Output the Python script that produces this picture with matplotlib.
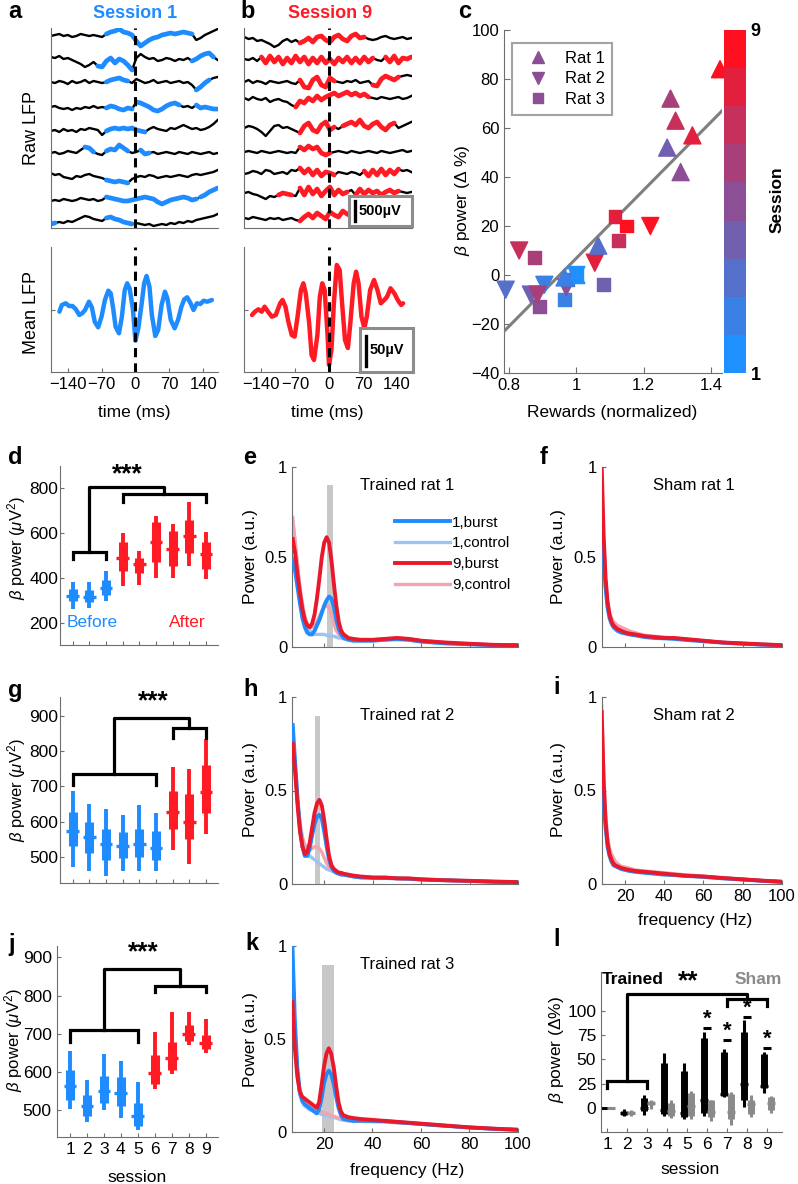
import numpy as np
import matplotlib
matplotlib.use('Agg')
import matplotlib.pyplot as plt
from matplotlib.colors import LinearSegmentedColormap, Normalize
from matplotlib.cm import ScalarMappable
from matplotlib.patches import Rectangle
from matplotlib.lines import Line2D

plt.rcParams['font.family'] = ['Liberation Sans', 'DejaVu Sans']
plt.rcParams['mathtext.fontset'] = 'custom'
plt.rcParams['mathtext.rm'] = 'Liberation Sans'
plt.rcParams['mathtext.it'] = 'Liberation Sans:italic'
plt.rcParams['xtick.direction'] = 'in'
plt.rcParams['ytick.direction'] = 'in'
plt.rcParams['axes.edgecolor'] = '#6e6e6e'
plt.rcParams['xtick.color'] = '#6e6e6e'
plt.rcParams['ytick.color'] = '#6e6e6e'
plt.rcParams['xtick.labelcolor'] = 'black'
plt.rcParams['ytick.labelcolor'] = 'black'
plt.rcParams['font.size'] = 12

BLUE = '#1E8CFF'
RED = '#FF1A24'
LBLUE = '#9CC4F2'
LRED = '#F5A3AC'
BAND = '#c8c8c8'
TICK_FS = 11.5
LAB_FS = 12.5

# ---------------- data: a/b raw LFP (px offsets, up positive) ----------------
raw_a = [
    [-1,0,1,-1,0,-2,-1,1,0,-1,0,-1,-2,1,3,4,6,3,2,0,-6,-11,-8,-5,-3,-2,0,1,2,1,2,3,2,1,-5,-3,0,2,4,6],
    [3,2,4,1,2,0,-2,-4,-7,-5,-2,-6,-7,-1,2,-3,1,-1,-5,-10,2,6,3,1,2,-1,0,2,1,-1,1,0,2,-1,1,4,6,7,3,0],
    [0,-1,1,0,-2,1,-1,0,2,-1,1,0,-1,0,2,3,4,2,1,-1,3,1,-1,0,2,-1,0,1,-1,0,1,-1,0,-3,-8,-5,-1,2,4,5],
    [0,1,-1,-2,-1,-3,-1,-2,0,-1,1,-1,0,-1,1,0,-2,-3,-1,-2,5,4,2,0,-3,-4,-2,1,3,4,2,0,1,-1,2,-1,0,-1,-2,-2],
    [-1,0,-2,1,-1,0,-2,1,0,2,1,0,-5,-1,1,2,1,2,1,2,0,-1,-2,1,3,1,0,-1,2,1,3,5,3,1,2,0,1,3,6,10],
    [0,1,-1,0,2,1,0,3,6,5,1,-1,-2,2,4,3,8,5,2,0,1,3,-1,0,1,-1,0,1,0,-1,1,0,-1,1,0,-1,0,1,-1,0],
    [4,2,3,0,-1,-2,1,0,2,3,1,0,-1,-3,-4,-5,-4,-5,-6,-2,0,1,0,2,1,-1,0,1,0,1,2,1,0,2,3,2,3,4,5,7],
    [-1,0,-1,1,0,-1,0,2,1,0,1,-1,0,3,2,1,0,-1,-1,0,1,2,3,2,1,-2,-4,-2,0,1,2,3,2,0,1,3,5,8,10,12],
    [-2,-1,0,-1,1,0,2,4,6,5,3,2,1,4,5,3,2,0,-1,-2,-1,-2,-3,-2,-4,-3,-2,-3,-1,-2,0,-1,1,0,2,3,4,5,6,8],
]
rows_a = [35, 60, 82, 107, 130, 153, 177, 200, 222]
segs_a = [[(13, 33)], [(11, 19), (33, 38)], [(13, 18), (34, 37)], [(13, 19), (20, 30), (34, 39)],
          [(13, 22)], [(8, 10), (13, 18), (21, 23)], [(13, 18)], [(13, 34), (35, 39)], [(0, 1), (13, 19)]]

raw_b = [
    [3,1,2,-1,0,-2,-4,-7,-5,-1,1,-2,0,-3,-1,2,-2,3,4,0,-2,3,5,1,-1,4,6,2,3,1,0,1,3,4,2,1,2,3,1,2],
    [1,0,2,-1,3,-3,4,-2,3,-4,2,-3,4,-2,3,-4,2,-3,3,-3,1,-4,2,-2,3,-3,2,-3,3,-2,2,0,-1,3,-2,4,-3,2,1,3],
    [0,2,-1,1,0,-2,1,0,-1,0,1,-1,-2,2,-5,-6,2,5,-3,-5,4,1,0,-1,1,0,2,-1,0,1,-3,-4,3,6,4,2,5,6,7,6],
    [1,-1,2,0,-1,1,-3,-1,0,-2,-3,-6,-8,-2,-4,1,-2,3,-1,2,4,6,3,5,7,4,6,3,5,2,1,0,2,1,0,1,2,0,1,3],
    [0,2,1,-1,-4,-8,-3,2,3,0,1,-1,-3,-5,2,5,-2,-4,3,6,-2,1,-1,2,4,6,3,8,2,0,4,6,1,-2,3,5,0,2,4,6],
    [0,1,0,-1,1,0,-1,0,1,0,-1,0,-1,5,2,6,3,5,-1,-3,-1,0,1,0,-1,1,0,-1,0,1,0,-1,1,0,-1,0,1,2,0,1],
    [-1,0,2,1,-1,3,2,-1,0,1,-1,3,2,5,0,4,-2,3,-3,1,0,-2,1,0,-1,1,0,-2,2,-3,3,-2,4,-2,3,-1,4,2,3,1],
    [0,1,-1,-2,-4,-6,-3,-4,-2,0,-1,-2,-3,5,-2,6,-1,4,-3,2,6,-2,3,-1,1,3,-2,4,-1,3,0,2,-2,1,3,0,2,1,0,1],
    [0,-1,1,0,-1,-2,0,-1,0,-2,-1,0,-2,-3,1,4,0,5,2,-1,6,3,1,7,4,2,8,5,3,9,6,8,4,3,1,2,0,1,-1,0],
]
rows_b = [40, 60, 82, 99, 128, 152, 173, 193, 218]
segs_b = [[(13, 28)], [(4, 30), (33, 39)], [(13, 21), (30, 36)], [(12, 29)], [(13, 21), (23, 35)],
          [(13, 20)], [(13, 21), (28, 36)], [(8, 11), (13, 24), (26, 36)], [(13, 32)]]

# mean LFP (ms, arbitrary units)
mean_a_t = [-157,-152,-144,-137,-130,-123,-116,-110,-104,-96,-90,-84,-77,-70,-63,-56,-51,-46,-41,-34,
            -28,-22,-17,-12,-5,0,6,13,18,23,29,34,41,47,54,61,66,73,81,88,95,101,107,114,120,127,134,141,148,158]
mean_a_v = [-1.7,5,6.7,4,4,0.7,-5,-3.3,0,8.3,2.7,-11.7,-17.3,-6.7,10,19.3,16.7,1.7,-16.7,-23.3,
            -6.7,20,26.7,21.7,0,-30.7,-18.3,6.7,26.7,34,23.3,-5,-26,-20,5,18.3,11.7,-10,-18.3,-10,
            3.3,10.7,12.7,6.7,0,6.7,6,9.3,8.3,10]
mean_b_t = [-159,-153,-146,-139,-133,-126,-118,-110,-101,-96,-90,-84,-77,-71,-65,-58,-53,-48,-41,-36,
            -31,-24,-19,-14,-9,-3,0,5,10,16,22,27,33,39,44,51,56,61,67,73,78,85,93,100,107,114,120,127,135,142,149,153]
mean_b_v = [-5,-1.7,0.7,-1.7,3.3,-1.7,-6.7,-5,6.7,10,3.3,-11.7,-25,-26.7,-6.7,20,26.7,16.7,-13.3,-45,
            -50,-25,13.3,26.7,20,-25,-55,-40,6.7,45,40,6.7,-30,-38,-13.3,26.7,38.3,26.7,-6.7,-18,
            -6.7,20,30,20,6.7,10,13.3,21.7,16.7,10,5,6.7]

# ---------------- c scatter ----------------
rat1_x = [1.0, 0.965, 1.065, 1.27, 1.31, 1.28, 1.295, 1.345, 1.427]
rat1_y = [0, -1, 12, 52, 42, 72, 63, 57, 84]
rat2_x = [1.0, 0.905, 0.79, 0.865, 0.97, 0.885, 0.83, 1.055, 1.22]
rat2_y = [0, -4, -6, -8, -5, -8, 10, 5, 20]
rat3_x = [1.0, 0.965, 0.975, 1.08, 0.89, 0.875, 1.125, 1.115, 1.15]
rat3_y = [0, -10, -2, -4, -13, 7, 14, 24, 20]
sessions = [1, 2, 3, 4, 5, 6, 7, 8, 9]
fit_x = [0.785, 1.433]
fit_y = [-23, 67]

# ---------------- d/g/j box stats: low, q1, med, q3, high ----------------
d_stats = [[262,295,318,350,383],[265,293,315,345,383],[295,325,355,390,430],
           [365,430,490,560,600],[370,420,460,490,520],[400,470,560,650,675],
           [400,455,530,610,640],[455,510,585,660,740],[395,440,505,560,605]]
g_stats = [[470,530,572,628,688],[460,510,557,600,650],[446,490,535,580,635],
           [460,495,530,570,620],[460,500,535,580,648],[460,490,525,572,625],
           [520,580,628,688,755],[480,550,598,678,750],[565,625,685,762,835]]
j_stats = [[503,527,563,605,655],[470,485,510,540,580],[500,520,550,590,648],
           [480,510,545,588,630],[448,460,485,518,575],[556,568,598,645,705],
           [595,605,636,678,757],[672,682,700,722,758],[650,660,675,697,740]]
d_before = 3
g_before = 6
j_before = 5

# ---------------- spectra ----------------
fq = [7,8,9,10,11,12,13,14,15,16,17,18,19,20,21,22,23,24,25,26,27,28,30,32,35,40,45,50,55,60,70,80,90,100]
e_b9 = [0.60,0.52,0.40,0.30,0.21,0.15,0.12,0.11,0.13,0.18,0.27,0.38,0.50,0.58,0.61,0.58,0.48,0.35,0.23,0.14,0.09,0.07,0.05,0.045,0.04,0.04,0.045,0.05,0.045,0.035,0.025,0.018,0.012,0.01]
e_b1 = [0.48,0.42,0.33,0.24,0.16,0.11,0.08,0.07,0.07,0.09,0.12,0.15,0.19,0.23,0.26,0.28,0.27,0.22,0.15,0.10,0.07,0.05,0.04,0.035,0.035,0.035,0.04,0.045,0.04,0.03,0.02,0.015,0.01,0.008]
e_c1 = [0.70,0.58,0.45,0.32,0.22,0.15,0.11,0.09,0.08,0.07,0.07,0.07,0.07,0.07,0.065,0.065,0.06,0.06,0.055,0.05,0.05,0.045,0.04,0.035,0.035,0.035,0.04,0.04,0.04,0.03,0.02,0.015,0.01,0.008]
e_c9 = [0.72,0.58,0.45,0.33,0.24,0.17,0.13,0.11,0.11,0.12,0.14,0.17,0.20,0.22,0.23,0.22,0.18,0.13,0.09,0.07,0.06,0.05,0.045,0.04,0.04,0.04,0.045,0.05,0.045,0.035,0.025,0.018,0.012,0.01]
h_b9 = [0.75,0.6,0.42,0.28,0.2,0.16,0.17,0.22,0.3,0.38,0.43,0.45,0.42,0.34,0.24,0.15,0.1,0.08,0.07,0.06,0.06,0.055,0.05,0.045,0.04,0.035,0.035,0.03,0.03,0.025,0.02,0.017,0.013,0.01]
h_b1 = [0.85,0.65,0.45,0.3,0.2,0.15,0.15,0.19,0.26,0.32,0.36,0.37,0.35,0.28,0.2,0.13,0.09,0.07,0.06,0.055,0.05,0.05,0.045,0.04,0.035,0.033,0.032,0.03,0.028,0.024,0.02,0.016,0.012,0.01]
h_c1 = [0.8,0.62,0.45,0.32,0.24,0.2,0.17,0.15,0.14,0.13,0.12,0.11,0.1,0.09,0.08,0.075,0.07,0.065,0.06,0.055,0.05,0.05,0.045,0.04,0.035,0.033,0.032,0.03,0.028,0.024,0.02,0.016,0.012,0.01]
h_c9 = [0.78,0.6,0.44,0.32,0.25,0.21,0.19,0.18,0.19,0.2,0.2,0.19,0.17,0.14,0.11,0.09,0.08,0.07,0.065,0.06,0.055,0.05,0.045,0.04,0.035,0.033,0.032,0.03,0.028,0.024,0.02,0.016,0.012,0.01]
k_b9 = [0.7,0.45,0.3,0.22,0.19,0.18,0.17,0.16,0.15,0.14,0.13,0.16,0.25,0.35,0.42,0.45,0.42,0.35,0.25,0.16,0.11,0.09,0.08,0.075,0.07,0.065,0.06,0.055,0.05,0.045,0.035,0.025,0.018,0.012]
k_b1 = [1.0,0.6,0.35,0.22,0.17,0.15,0.14,0.13,0.12,0.11,0.1,0.12,0.18,0.26,0.31,0.33,0.31,0.26,0.19,0.13,0.09,0.07,0.065,0.06,0.06,0.06,0.058,0.053,0.048,0.043,0.033,0.024,0.017,0.012]
k_c1 = [0.85,0.55,0.32,0.2,0.16,0.14,0.13,0.12,0.115,0.11,0.105,0.1,0.095,0.09,0.09,0.085,0.08,0.08,0.075,0.07,0.065,0.065,0.06,0.06,0.058,0.056,0.055,0.05,0.047,0.042,0.033,0.024,0.017,0.012]
k_c9 = [0.8,0.5,0.33,0.22,0.18,0.16,0.15,0.14,0.13,0.12,0.11,0.11,0.11,0.105,0.1,0.095,0.09,0.085,0.08,0.075,0.07,0.065,0.06,0.06,0.058,0.056,0.055,0.05,0.047,0.042,0.033,0.024,0.017,0.012]

fq_s = [8,9,10,11,12,13,14,15,16,18,20,22,25,30,35,40,45,50,60,70,80,90,100]
f_b9 = [1.0,0.62,0.38,0.25,0.18,0.14,0.12,0.11,0.10,0.09,0.08,0.075,0.07,0.06,0.055,0.05,0.05,0.045,0.035,0.025,0.02,0.015,0.01]
f_b1 = [0.65,0.5,0.33,0.22,0.16,0.13,0.11,0.1,0.09,0.08,0.075,0.07,0.065,0.055,0.05,0.048,0.045,0.04,0.032,0.024,0.018,0.013,0.01]
f_c1 = [0.62,0.48,0.32,0.22,0.17,0.14,0.12,0.11,0.1,0.09,0.085,0.08,0.07,0.06,0.055,0.05,0.048,0.042,0.034,0.025,0.018,0.013,0.01]
f_c9 = [0.85,0.58,0.36,0.25,0.19,0.16,0.14,0.13,0.12,0.11,0.1,0.09,0.08,0.065,0.06,0.055,0.05,0.045,0.035,0.026,0.02,0.014,0.01]
i_b9 = [0.92,0.55,0.33,0.22,0.16,0.13,0.11,0.1,0.095,0.085,0.08,0.075,0.07,0.065,0.06,0.055,0.05,0.045,0.04,0.032,0.025,0.018,0.012]
i_b1 = [0.6,0.45,0.3,0.2,0.15,0.12,0.1,0.095,0.09,0.08,0.075,0.07,0.065,0.06,0.055,0.05,0.048,0.044,0.038,0.03,0.024,0.017,0.012]
i_c1 = [0.7,0.5,0.33,0.22,0.16,0.13,0.11,0.1,0.095,0.085,0.08,0.075,0.068,0.062,0.057,0.052,0.05,0.045,0.04,0.031,0.024,0.017,0.012]
i_c9 = [0.95,0.6,0.38,0.25,0.19,0.16,0.14,0.12,0.11,0.095,0.09,0.085,0.075,0.07,0.065,0.06,0.055,0.05,0.042,0.033,0.025,0.018,0.012]
band_e = (21.2, 23.8)
band_h = (16.3, 18.3)
band_k = (19.3, 24.2)

# ---------------- l: trained / sham (low, q1, med, q3, high) ----------------
l_trained = [[0,0,0,0,0],[-9,-7,-5,-3,-1],[-7,-3,0,10,13],[-9,-6,-2,46,56],[-12,-10,-5,38,46],
             [-8,-5,8,72,78],[11,12,14,58,61],[1,8,24,78,91],[15,20,22,55,58]]
l_sham = [[0,0,0,0,0],[-8,-6,-5,-3,-2],[-1,3,5,7,8],[-11,-8,-3,5,8],[-12,-8,2,15,17],
          [-14,-10,-4,8,8],[-18,-12,-4,14,16],[-10,-6,4,8,13],[-5,-2,5,11,12]]
l_sig_sessions = [6, 7, 8, 9]
l_sig_level = [82, 70, 94, 62]

W, H = 798, 1184
fig = plt.figure(figsize=(W / 100, H / 100), dpi=100)


def px_axes(l, t, r, b):
    ax = fig.add_axes([l / W, 1 - b / H, (r - l) / W, (b - t) / H])
    ax.spines['top'].set_visible(False)
    ax.spines['right'].set_visible(False)
    return ax


def ftext(x, y, s, **kw):
    kw.setdefault('ha', 'center')
    kw.setdefault('va', 'center')
    return fig.text(x / W, 1 - y / H, s, **kw)


def fbox(l, t, r, b, label, bar_top, bar_bot):
    fig.add_artist(Rectangle((l / W, 1 - b / H), (r - l) / W, (b - t) / H, transform=fig.transFigure,
                             facecolor='white', edgecolor='#8c8c8c', linewidth=2.2, zorder=5))
    fig.add_artist(Line2D([(l + 6) / W] * 2, [1 - bar_top / H, 1 - bar_bot / H], transform=fig.transFigure,
                          color='black', linewidth=2.4, zorder=6))
    ftext(l + 10, (t + b) / 2, label, ha='left', fontsize=10.5, fontweight='bold', zorder=6)


# ---------------- panels a, b ----------------
t_raw = np.linspace(-175, 170, 40)
for left, raws, rows, segs, col in [(50.7, raw_a, rows_a, segs_a, BLUE), (244.3, raw_b, rows_b, segs_b, RED)]:
    ax = px_axes(left, 28, left + 167.5, 228)
    for tr, row, sg in zip(raws, rows, segs):
        y = row - np.array(tr, dtype=float)
        ax.plot(t_raw, y, color='black', lw=1.7)
        for i0, i1 in sg:
            ax.plot(t_raw[i0:i1 + 1], y[i0:i1 + 1], color=col, lw=3.4, solid_capstyle='round')
    ax.axvline(0, color='black', lw=2.2, ls=(0, (3, 2)))
    ax.set_xlim(-175, 171)
    ax.set_ylim(228, 28)
    ax.set_xticks([])
    ax.set_yticks([])

for left, mt, mv, col in [(50.7, mean_a_t, mean_a_v, BLUE), (244.3, mean_b_t, mean_b_v, RED)]:
    ax = px_axes(left, 247, left + 167.5, 372)
    ax.plot(mt, mv, color=col, lw=3.2, solid_joinstyle='round', solid_capstyle='round')
    ax.axvline(0, color='black', lw=2.2, ls=(0, (3, 2)))
    ax.set_xlim(-175, 171)
    ax.set_ylim(-62, 63)
    ax.set_xticks([-140, -70, 0, 70, 140])
    ax.set_yticks([0])
    ax.set_yticklabels([])
    ax.tick_params(labelsize=TICK_FS + 0.5, length=3)

fbox(349, 196, 412, 226, '500µV', 201, 221)
fbox(360, 328, 413, 372, '50µV', 336, 366)

ftext(8, 12, 'a', ha='left', fontsize=17, fontweight='bold')
ftext(240, 12, 'b', ha='left', fontsize=17, fontweight='bold')
ftext(135, 13, 'Session 1', color=BLUE, fontsize=13, fontweight='bold')
ftext(330, 13, 'Session 9', color=RED, fontsize=13, fontweight='bold')
ftext(32, 128, 'Raw LFP', rotation=90, fontsize=13)
ftext(32, 312, 'Mean LFP', rotation=90, fontsize=13)
ftext(134, 412, 'time (ms)', fontsize=LAB_FS)
ftext(327, 412, 'time (ms)', fontsize=LAB_FS)

# ---------------- panel c ----------------
cmap9 = LinearSegmentedColormap.from_list('sess', ['#1E90FF', '#8C4F96', '#FF1020']).resampled(9)
norm = Normalize(1, 9)
ax = px_axes(504, 30, 722, 373)
ax.plot(fit_x, fit_y, color='#7f7f7f', lw=2.2, zorder=3)
ax.scatter(rat3_x, rat3_y, c=sessions, cmap=cmap9, norm=norm, marker='s', s=85, zorder=4, clip_on=False)
ax.scatter(rat2_x, rat2_y, c=sessions, cmap=cmap9, norm=norm, marker='v', s=150, zorder=4, clip_on=False)
ax.scatter(rat1_x, rat1_y, c=sessions, cmap=cmap9, norm=norm, marker='^', s=150, zorder=4, clip_on=False)
ax.set_xlim(0.785, 1.433)
ax.set_ylim(-40, 100)
ax.set_xticks([0.8, 1.0, 1.2, 1.4])
ax.set_xticklabels(['0.8', '1', '1.2', '1.4'])
ax.set_yticks([-40, -20, 0, 20, 40, 60, 80, 100])
ax.tick_params(labelsize=TICK_FS + 0.5, length=4)
mid = cmap9(norm(5))
hs = [Line2D([], [], ls='none', marker=m, color=mid, markersize=ms) for m, ms in [('^', 9), ('v', 9), ('s', 7)]]
leg = ax.legend(hs, ['Rat 1', 'Rat 2', 'Rat 3'], loc='upper left', bbox_to_anchor=(0.037, 0.962),
                fontsize=12, handlelength=2.2, handletextpad=0.5, borderpad=0.45, labelspacing=0.35,
                fancybox=False, edgecolor='#8c8c8c', borderaxespad=0)
leg.get_frame().set_linewidth(1.5)
cax = fig.add_axes([724 / W, 1 - 373 / H, 22 / W, 343 / H])
cb = fig.colorbar(ScalarMappable(norm=norm, cmap=cmap9), cax=cax)
cb.outline.set_visible(False)
cb.set_ticks([1, 9])
cax.tick_params(length=0, labelsize=13)
for tl in cax.get_yticklabels():
    tl.set_fontweight('bold')
ftext(458, 12, 'c', ha='left', fontsize=17, fontweight='bold')
ftext(777, 200, 'Session', rotation=90, fontsize=12.5, fontweight='bold')
ftext(463, 200, r'$\beta$ power ($\Delta$ %)', rotation=90, fontsize=LAB_FS)
ftext(612, 412, 'Rewards (normalized)', fontsize=LAB_FS)


# ---------------- d, g, j ----------------
def draw_boxes(ax, stats, nbefore, tw=2.8, bw=6.5, mw=0.38):
    for i, (lo, q1, md, q3, hi) in enumerate(stats):
        col = BLUE if i < nbefore else RED
        x = i + 1
        ax.vlines(x, lo, hi, color=col, lw=tw)
        ax.vlines(x, q1, q3, color=col, lw=bw)
        ax.hlines(md, x - mw, x + mw, color=col, lw=2.4)


def bracket(ax, x0, x1, y, yleg):
    ax.plot([x0, x0, x1, x1], [yleg, y, y, yleg], color='black', lw=2.3,
            clip_on=False, solid_joinstyle='miter')


def box_panel(l, t, r, b, stats, nbefore, ylim, yticks, brk, star, xlab, pad):
    ax = px_axes(l, t, r, b)
    draw_boxes(ax, stats, nbefore)
    (lx0, lx1, ly, lleg), (rx0, rx1, ry, rleg), (tx0, tx1, ty) = brk
    bracket(ax, lx0, lx1, ly, lleg)
    bracket(ax, rx0, rx1, ry, rleg)
    ax.plot([tx0, tx0, tx1, tx1], [ly, ty, ty, ry], color='black', lw=2.3, clip_on=False)
    ax.text(star[0], star[1], '***', ha='center', va='center', fontsize=19, fontweight='bold')
    ax.set_xlim(0.25, 9.72)
    ax.set_ylim(*ylim)
    ax.set_yticks(yticks)
    ax.set_xticks(sessions)
    if xlab:
        ax.set_xticklabels([str(s) for s in sessions])
    else:
        ax.set_xticklabels([])
    ax.tick_params(labelsize=TICK_FS + 1, length=3)
    ax.tick_params(axis='y', pad=pad)
    return ax


ax = box_panel(60.3, 466, 218, 645, d_stats, d_before, (100, 900), [200, 400, 600, 800],
               [(1, 3, 517, 484), (4, 9, 773, 740), (2, 6.5, 804)], (4.25, 862), False, 1.5)
ax.text(2.16, 200, 'Before', color=BLUE, ha='center', va='center', fontsize=12.5)
ax.text(7.86, 200, 'After', color=RED, ha='center', va='center', fontsize=12.5)
box_panel(60.3, 697, 218, 883, g_stats, g_before, (425, 955), [500, 600, 700, 800, 900],
          [(1, 6, 737, 703), (7, 9, 866, 837), (3.5, 8, 896)], (5.85, 942), False, 1.5)
box_panel(57.3, 946, 218, 1137, j_stats, j_before, (430, 930), [500, 600, 700, 800, 900],
          [(1, 5, 710, 680), (6, 9, 825, 810), (3, 7.5, 870)], (5.3, 914), True, 4)
ylab = r'$\beta$ power ($\mu$V$^2$)'
ftext(17, 548, ylab, rotation=90, fontsize=12)
ftext(17, 790, ylab, rotation=90, fontsize=12)
ftext(14, 1040, ylab, rotation=90, fontsize=12)
ftext(137, 1178, 'session', fontsize=LAB_FS)
ftext(8, 458, 'd', ha='left', fontsize=17, fontweight='bold')
ftext(8, 690, 'g', ha='left', fontsize=17, fontweight='bold')
ftext(8, 944, 'j', ha='left', fontsize=17, fontweight='bold')


# ---------------- spectra ----------------
def spec_panel(l, t, r, b, f, c1, c9, b1, b9, band, title, xlim, xlab):
    ax = px_axes(l, t, r, b)
    if band is not None:
        ax.fill_between(band, 0, 0.9, color=BAND, lw=0, zorder=1)
    ax.plot(f, c1, color=LBLUE, lw=2.4, zorder=2)
    ax.plot(f, c9, color=LRED, lw=2.4, zorder=2)
    ax.plot(f, b1, color=BLUE, lw=2.8, zorder=3)
    ax.plot(f, b9, color='#E8192C', lw=2.8, zorder=4)
    ax.set_xlim(*xlim)
    ax.set_ylim(0, 1)
    ax.set_yticks([0, 0.5, 1])
    ax.set_yticklabels(['0', '0.5', '1'])
    ax.set_xticks([20, 40, 60, 80, 100])
    if not xlab:
        ax.set_xticklabels([])
    ax.tick_params(labelsize=TICK_FS + 0.5, length=3)
    ax.text(0.51, 0.9, title, transform=ax.transAxes, ha='center', va='center', fontsize=12)
    return ax


ax = spec_panel(292, 467, 518, 647, fq, e_c1, e_c9, e_b1, e_b9, band_e, 'Trained rat 1', (6.7, 100), False)
hl = [Line2D([], [], color=c, lw=w) for c, w in [(BLUE, 2.8), (LBLUE, 2.4), ('#E8192C', 2.8), (LRED, 2.4)]]
ax.legend(hl, ['1,burst', '1,control', '9,burst', '9,control'], loc='upper left',
          bbox_to_anchor=(0.456, 0.73), frameon=False, fontsize=11, handlelength=3.6,
          handletextpad=0.15, labelspacing=0.45, borderpad=0, borderaxespad=0)
spec_panel(601.7, 467, 781.7, 647, fq_s, f_c1, f_c9, f_b1, f_b9, None, 'Sham rat 1', (8, 100), False)
spec_panel(292, 697, 518, 884, fq, h_c1, h_c9, h_b1, h_b9, band_h, 'Trained rat 2', (6.7, 100), False)
spec_panel(601.7, 697, 781.7, 884, fq_s, i_c1, i_c9, i_b1, i_b9, None, 'Sham rat 2', (8, 100), True)
spec_panel(291.7, 946, 518, 1132, fq, k_c1, k_c9, k_b1, k_b9, band_k, 'Trained rat 3', (6.7, 100), True)
for x, y in [(250, 557), (250, 790), (250, 1040), (559, 557), (559, 790)]:
    ftext(x, y, 'Power (a.u.)', rotation=90, fontsize=LAB_FS)
ftext(695, 920, 'frequency (Hz)', fontsize=LAB_FS)
ftext(407, 1170, 'frequency (Hz)', fontsize=LAB_FS)
ftext(243, 458, 'e', ha='left', fontsize=17, fontweight='bold')
ftext(540, 458, 'f', ha='left', fontsize=17, fontweight='bold')
ftext(243, 690, 'h', ha='left', fontsize=17, fontweight='bold')
ftext(553, 688, 'i', ha='left', fontsize=17, fontweight='bold')
ftext(245, 944, 'k', ha='left', fontsize=17, fontweight='bold')
ftext(553, 940, 'l', ha='left', fontsize=17, fontweight='bold')

# ---------------- l ----------------
ax = px_axes(601, 972, 781.7, 1132)
for i, (tr, sh) in enumerate(zip(l_trained, l_sham)):
    for st, col, dx in [(tr, 'black', -0.17), (sh, '#8a8a8a', 0.2)]:
        lo, q1, md, q3, hi = st
        x = i + 1 + dx
        ax.vlines(x, lo, hi, color=col, lw=2.2)
        ax.vlines(x, q1, q3, color=col, lw=5.0)
        ax.hlines(md, x - 0.2, x + 0.2, color=col, lw=2.2)
for s, lv in zip(l_sig_sessions, l_sig_level):
    ax.hlines(lv, s - 0.2, s + 0.2, color='black', lw=2.2)
    ax.text(s, lv + 9, '*', ha='center', va='center', fontsize=16, fontweight='bold')
bracket(ax, 1, 3, 28, 20)
bracket(ax, 7, 9, 112, 105)
ax.plot([2, 2, 8, 8], [28, 117, 117, 112], color='black', lw=2.3, clip_on=False)
ax.set_xlim(0.7, 9.72)
ax.set_ylim(-25, 140)
ax.set_yticks([0, 25, 50, 75, 100])
ax.set_xticks(sessions)
ax.tick_params(labelsize=TICK_FS + 1, length=3)
ftext(633, 980, 'Trained', fontsize=12.5, fontweight='bold')
ftext(688, 981, '**', fontsize=19, fontweight='bold')
ftext(758, 980, 'Sham', fontsize=12.5, fontweight='bold', color='#8a8a8a')
ftext(557, 1050, r'$\beta$ power ($\Delta$%)', rotation=90, fontsize=LAB_FS)
ftext(690, 1170, 'session', fontsize=LAB_FS)

fig.savefig('out.png', dpi=100)
